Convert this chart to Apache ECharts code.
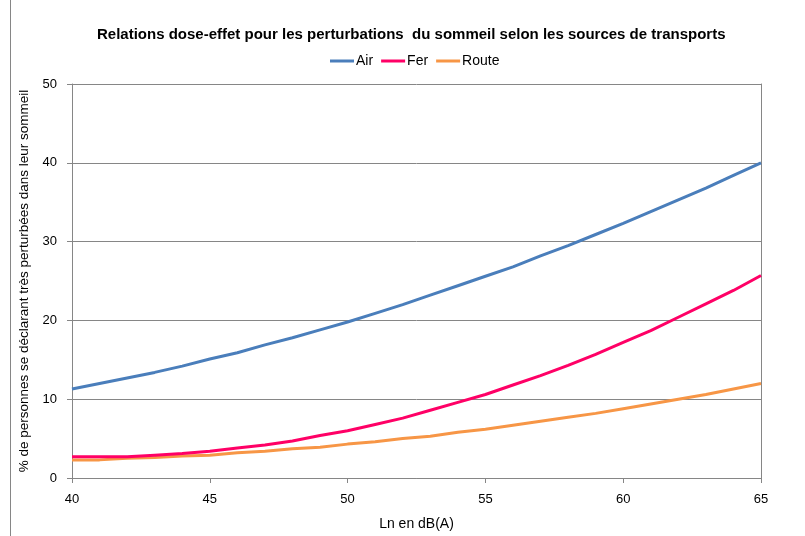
<!DOCTYPE html>
<html>
<head>
<meta charset="utf-8">
<script src="https://cdn.jsdelivr.net/npm/echarts@6/dist/echarts.min.js"></script>
<style>
  html, body { margin: 0; padding: 0; background: #ffffff; }
  #chart { width: 805px; height: 536px; }
</style>
</head>
<body>
<div id="chart"></div>
<script>
// Niveau sonore nocturne Ln, en dB(A)
const levels = [40, 41, 42, 43, 44, 45, 46, 47, 48, 49, 50, 51, 52,
                53, 54, 55, 56, 57, 58, 59, 60, 61, 62, 63, 64, 65];

// % de personnes très perturbées dans leur sommeil, par source
const air = [11.3, 12.0, 12.7, 13.4, 14.2, 15.1, 15.9, 16.9, 17.8, 18.8, 19.8, 20.9, 22.0,
             23.2, 24.4, 25.6, 26.8, 28.2, 29.5, 30.9, 32.3, 33.8, 35.3, 36.8, 38.4, 40.0];
const fer = [2.7, 2.7, 2.7, 2.9, 3.1, 3.4, 3.8, 4.2, 4.7, 5.4, 6.0, 6.8, 7.6,
             8.6, 9.6, 10.6, 11.8, 13.0, 14.3, 15.7, 17.2, 18.7, 20.4, 22.1, 23.8, 25.7];
const route = [2.3, 2.3, 2.5, 2.6, 2.8, 2.9, 3.2, 3.4, 3.7, 3.9, 4.3, 4.6, 5.0,
               5.3, 5.8, 6.2, 6.7, 7.2, 7.7, 8.2, 8.8, 9.4, 10.0, 10.6, 11.3, 12.0];

const seriesNames = ['Air', 'Fer', 'Route'];
const seriesColors = ['#4a7ebb', '#ff0066', '#f79646'];
const xTicks = [40, 45, 50, 55, 60, 65];
const yTicks = [0, 10, 20, 30, 40, 50];

const pairs = arr => levels.map((x, i) => [x, arr[i]]);
const seriesData = [air, fer, route];

const FONT = '"Liberation Sans", Arial, sans-serif';
const chart = echarts.init(document.getElementById('chart'), null, { renderer: 'canvas' });

chart.setOption({
  animation: false,
  backgroundColor: '#ffffff',
  textStyle: { fontFamily: FONT },
  title: {
    text: 'Relations dose-effet pour les perturbations  du sommeil selon les sources de transports',
    left: 92,
    top: 22,
    textStyle: { fontFamily: FONT, fontSize: 15, fontWeight: 'bold', color: '#000000' }
  },
  legend: {
    data: seriesNames,
    top: 49,
    left: 325,
    itemWidth: 24,
    itemHeight: 3,
    itemGap: 8,
    icon: 'rect',
    textStyle: { fontFamily: FONT, fontSize: 14, color: '#000000', padding: [0, 0, 0, -3] }
  },
  grid: { left: 72, right: 44, top: 84, bottom: 53, containLabel: false },
  xAxis: {
    type: 'value',
    min: 40, max: 65, interval: 5,
    name: 'Ln en dB(A)',
    nameLocation: 'middle',
    nameGap: 39,
    nameTextStyle: { fontFamily: FONT, fontSize: 14, color: '#000000' },
    axisLine: { show: true, lineStyle: { color: '#868686', width: 1 } },
    axisTick: { show: true, length: 5, lineStyle: { color: '#868686' } },
    axisLabel: {
      fontFamily: FONT, fontSize: 13, color: '#000000', margin: 15,
      formatter: v => xTicks.includes(v) ? String(v) : ''
    },
    splitLine: { show: false }
  },
  yAxis: [{
    type: 'value',
    min: 0, max: 50, interval: 10,
    name: '% de personnes se déclarant très perturbées dans leur sommeil',
    nameLocation: 'middle',
    nameRotate: 90,
    nameGap: 35,
    nameTextStyle: { fontFamily: FONT, fontSize: 13.5, color: '#000000' },
    axisLine: { show: true, lineStyle: { color: '#868686', width: 1 } },
    axisTick: { show: true, length: 5, lineStyle: { color: '#868686' } },
    axisLabel: {
      fontFamily: FONT, fontSize: 13, color: '#000000', margin: 15,
      formatter: v => yTicks.includes(v) ? String(v) : ''
    },
    splitLine: { show: true, lineStyle: { color: '#868686', width: 1 } }
  }, {
    type: 'value',
    position: 'right',
    min: 0, max: 50, interval: 10,
    axisLine: { show: true, lineStyle: { color: '#868686', width: 1 } },
    axisTick: { show: false },
    axisLabel: { show: false },
    splitLine: { show: false }
  }],
  series: seriesData.map((arr, i) => ({
    name: seriesNames[i],
    type: 'line',
    yAxisIndex: 0,
    data: pairs(arr),
    showSymbol: false,
    smooth: false,
    lineStyle: { color: seriesColors[i], width: 3 },
    itemStyle: { color: seriesColors[i] },
    z: 3 - i
  })),
  graphic: [{
    type: 'line',
    shape: { x1: 10.5, y1: 0, x2: 10.5, y2: 536 },
    style: { stroke: '#868686', lineWidth: 1 },
    silent: true
  }]
});
</script>
</body>
</html>
